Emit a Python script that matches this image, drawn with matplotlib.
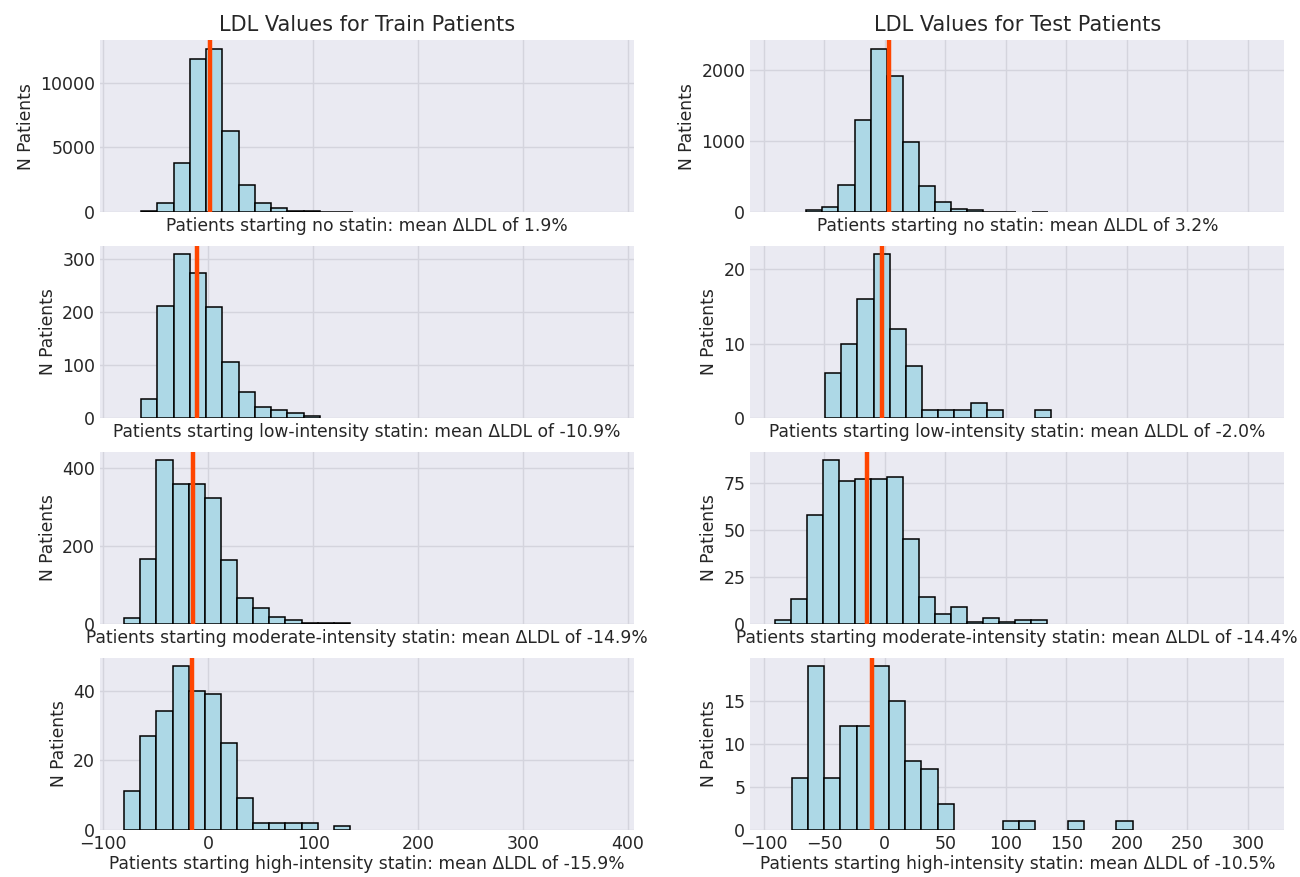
import numpy as np
import matplotlib
matplotlib.use("Agg")
import matplotlib.pyplot as plt

# statin groups (rows)
GROUPS = ["no statin", "low-intensity statin", "moderate-intensity statin", "high-intensity statin"]

# train histograms: first bin edge, bin width, counts
TRAIN_START = [-64.0, -64.0, -80.0, -80.0]
TRAIN_WIDTH = [15.5, 15.5, 15.36, 15.36]
TRAIN_NONE = [50, 670, 3760, 11860, 12650, 6260, 2110, 670, 280, 70, 40, 30, 20]
TRAIN_LOW = [35, 212, 309, 274, 209, 106, 48, 21, 15, 9, 4]
TRAIN_MOD = [15, 167, 420, 358, 358, 323, 163, 66, 41, 17, 9, 3, 2, 2]
TRAIN_HIGH = [11, 27, 34, 47, 40, 39, 25, 9, 2, 2, 2, 2, 0, 1]
TRAIN_MEAN = [1.9, -10.9, -14.9, -15.9]
TRAIN_YTICKS = [[0, 5000, 10000], [0, 100, 200, 300], [0, 200, 400], [0, 20, 40]]

# test histograms
TEST_START = [-64.8, -49.2, -90.3, -76.8]
TEST_WIDTH = [13.3, 13.35, 13.2, 13.4]
TEST_NONE = [28, 70, 381, 1303, 2310, 1915, 988, 362, 136, 47, 24, 6, 5, 0, 5]
TEST_LOW = [6, 10, 16, 22, 12, 7, 1, 1, 1, 2, 1, 0, 0, 1]
TEST_MOD = [2, 13, 58, 87, 76, 77, 77, 78, 45, 14, 5, 9, 1, 3, 1, 2, 2]
TEST_HIGH = [6, 19, 6, 12, 12, 19, 15, 8, 7, 3, 0, 0, 0, 1, 1, 0, 0, 1, 0, 0, 1]
TEST_MEAN = [3.2, -2.0, -14.4, -10.5]
TEST_YTICKS = [[0, 1000, 2000], [0, 10, 20], [0, 25, 50, 75], [0, 5, 10, 15]]

TRAIN_XTICKS = [-100, 0, 100, 200, 300, 400]
TEST_XTICKS = [-100, -50, 0, 50, 100, 150, 200, 250, 300]

BG = "#eaeaf2"
GRID = "#d4d4dd"
TXT = "#262626"


def draw_hist(ax, start, width, counts, mean, group, yticks, last_row):
    counts = np.asarray(counts, dtype=float)
    lefts = start + width * np.arange(len(counts))
    keep = counts > 0
    ax.bar(lefts[keep], counts[keep], width=width, align="edge",
           color="lightblue", edgecolor="black", linewidth=1.1, zorder=2)
    ax.axvline(mean, color="orangered", linewidth=3.2, zorder=3)
    ax.set_facecolor(BG)
    ax.grid(True, color=GRID, linewidth=1.0, zorder=0)
    ax.set_axisbelow(True)
    for s in ax.spines.values():
        s.set_visible(False)
    ax.tick_params(length=0, labelsize=12.5, colors=TXT, pad=3.5)
    ax.set_yticks(yticks)
    ax.set_ylabel("N Patients", fontsize=12.3, color=TXT)
    ax.set_xlabel(f"Patients starting {group}: mean \u0394LDL of {mean:.1f}%",
                  fontsize=12.3, color=TXT, labelpad=2 if last_row else 4)


fig, axes = plt.subplots(4, 2, figsize=(13, 8.77), dpi=100, sharex="col")
fig.subplots_adjust(left=0.077, right=0.988, top=0.954, bottom=0.054,
                    wspace=0.217, hspace=0.20)

train = [TRAIN_NONE, TRAIN_LOW, TRAIN_MOD, TRAIN_HIGH]
test = [TEST_NONE, TEST_LOW, TEST_MOD, TEST_HIGH]

for i, group in enumerate(GROUPS):
    last = i == len(GROUPS) - 1
    draw_hist(axes[i, 0], TRAIN_START[i], TRAIN_WIDTH[i], train[i],
              TRAIN_MEAN[i], group, TRAIN_YTICKS[i], last)
    draw_hist(axes[i, 1], TEST_START[i], TEST_WIDTH[i], test[i],
              TEST_MEAN[i], group, TEST_YTICKS[i], last)

axes[0, 0].set_xticks(TRAIN_XTICKS)
axes[0, 0].set_xlim(-103, 406)
axes[0, 1].set_xticks(TEST_XTICKS)
axes[0, 1].set_xlim(-111, 330)

axes[0, 0].set_title("LDL Values for Train Patients", fontsize=15, color=TXT, pad=7)
axes[0, 1].set_title("LDL Values for Test Patients", fontsize=15, color=TXT, pad=7)

fig.savefig("out.png", dpi=100, facecolor="white")
plt.close(fig)
